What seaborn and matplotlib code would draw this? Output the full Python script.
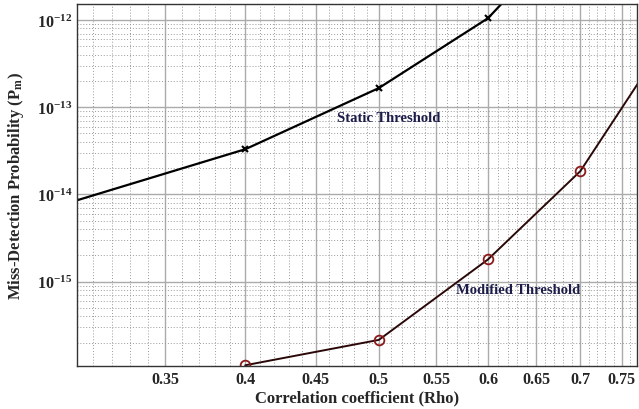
import numpy as np
import pandas as pd
import matplotlib
matplotlib.use("Agg")
import matplotlib.pyplot as plt
import seaborn as sns
from matplotlib.ticker import FixedLocator, NullFormatter, LogFormatterSciNotation

rho = [0.3, 0.4, 0.5, 0.6, 0.7]
static_pm = [8.3e-15, 3.3e-14, 1.66e-13, 1.05e-12, 1.4e-11]
rho_mod = [0.4, 0.5, 0.6, 0.7, 0.8]
modified_pm = [1.1e-16, 2.15e-16, 1.8e-15, 1.85e-14, 4.6e-13]
x_ticks = [0.35, 0.4, 0.45, 0.5, 0.55, 0.6, 0.65, 0.7, 0.75]
x_tick_labels = ["0.35", "0.4", "0.45", "0.5", "0.55", "0.6", "0.65", "0.7", "0.75"]
y_ticks = [1e-15, 1e-14, 1e-13, 1e-12]

sns.set_style("white")
plt.rcParams["font.family"] = ["Liberation Serif", "DejaVu Serif"]
plt.rcParams["mathtext.fontset"] = "stix"
plt.rcParams["font.weight"] = "bold"

fig = plt.figure(figsize=(6.39, 4.10), dpi=100)
ax = fig.add_axes([0.1205, 0.105, 0.877, 0.883])

df_s = pd.DataFrame({"rho": rho, "pm": static_pm})
df_m = pd.DataFrame({"rho": rho_mod, "pm": modified_pm})

sns.lineplot(data=df_s, x="rho", y="pm", ax=ax, color="black", lw=1.6,
             marker="x", markersize=4, markeredgewidth=1.5, markeredgecolor="black")
sns.lineplot(data=df_m, x="rho", y="pm", ax=ax, color="#2a0808", lw=1.4,
             marker="o", markersize=7, markerfacecolor="none",
             markeredgewidth=1.3, markeredgecolor="#8b1a1a")

ax.set_xscale("log")
ax.set_yscale("log")
ax.set_xlim(0.302, 0.77)
ax.set_ylim(1.08e-16, 1.53e-12)

ax.xaxis.set_major_locator(FixedLocator(x_ticks))
ax.set_xticklabels(x_tick_labels)
ax.xaxis.set_minor_locator(FixedLocator(np.arange(0.31, 0.77, 0.01)))
ax.xaxis.set_minor_formatter(NullFormatter())

# minor y ticks 2..9 within each decade, kept inside the view
y_minor = [m * 10.0 ** e for e in range(-16, -11) for m in range(2, 10)
           if 1.08e-16 < m * 10.0 ** e < 1.53e-12]
ax.yaxis.set_major_locator(FixedLocator(y_ticks))
ax.yaxis.set_major_formatter(LogFormatterSciNotation())
ax.yaxis.set_minor_locator(FixedLocator(y_minor))
ax.yaxis.set_minor_formatter(NullFormatter())

ax.grid(True, which="major", color="#ababab", lw=1.0, ls="-")
ax.grid(True, which="minor", color="#9a9a9a", lw=0.7, ls=(0, (1, 2)))
ax.tick_params(which="both", direction="in", length=3, labelsize=11.5)
ax.tick_params(which="minor", length=1.5)
for lbl in ax.get_xticklabels() + ax.get_yticklabels():
    lbl.set_fontweight("bold")
for s in ax.spines.values():
    s.set_color("#333333")
    s.set_linewidth(1.0)

ax.set_xlabel("Correlation coefficient (Rho)", fontsize=12, fontweight="bold", labelpad=2)
ax.set_ylabel(r"Miss-Detection Probability (P$_\mathbf{m}$)", fontsize=12,
              fontweight="bold", labelpad=8)

ax.text(0.508, 1.02e-13 / 1.35, "Static Threshold", fontsize=10.5, fontweight="bold",
        color="#1c1c4a", ha="center", va="center")
ax.text(0.631, 1.0e-15 / 1.22, "Modified Threshold", fontsize=10.5, fontweight="bold",
        color="#1c1c4a", ha="center", va="center")
if ax.get_legend():
    ax.get_legend().remove()

fig.savefig("out.png", dpi=100)
